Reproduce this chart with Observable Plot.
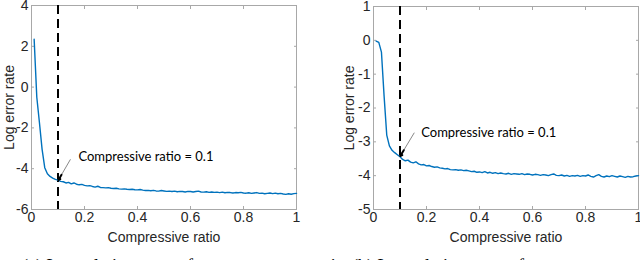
<!DOCTYPE html>
<html><head><meta charset="utf-8">
<script src="https://cdn.jsdelivr.net/npm/d3@7"></script>
<script src="https://cdn.jsdelivr.net/npm/@observablehq/plot@0.6"></script>
<style>
body{margin:0;background:#fff;width:640px;height:260px;overflow:hidden;position:relative}
#row{display:flex;position:absolute;left:0;top:0}
#row svg{display:block;overflow:visible}
.cap{position:absolute;top:256px;font-family:"Liberation Serif",serif;font-size:18px;line-height:20px;color:#000;white-space:nowrap}
</style></head><body>
<div id="row"><div id="a"></div><div id="b"></div></div>
<div class="cap" style="left:22px">(a) Log relative error of measurement matrix</div>
<div class="cap" style="left:352px">(b) Log relative error of measurement matrix</div>
<script>
const ratio = [0.01,0.02,0.03,0.04,0.05,0.06,0.07,0.08,0.09,0.10,0.11,0.12,0.13,0.14,0.15,0.16,0.17,0.18,0.19,0.20,0.21,0.22,0.23,0.24,0.25,0.26,0.27,0.28,0.29,0.30,0.31,0.32,0.33,0.34,0.35,0.36,0.37,0.38,0.39,0.40,0.41,0.42,0.43,0.44,0.45,0.46,0.47,0.48,0.49,0.50,0.51,0.52,0.53,0.54,0.55,0.56,0.57,0.58,0.59,0.60,0.61,0.62,0.63,0.64,0.65,0.66,0.67,0.68,0.69,0.70,0.71,0.72,0.73,0.74,0.75,0.76,0.77,0.78,0.79,0.80,0.81,0.82,0.83,0.84,0.85,0.86,0.87,0.88,0.89,0.90,0.91,0.92,0.93,0.94,0.95,0.96,0.97,0.98,0.99,1.00];
const errorA = [2.35,-0.50,-1.75,-3.05,-3.95,-4.25,-4.38,-4.46,-4.52,-4.56,-4.62,-4.64,-4.70,-4.67,-4.74,-4.70,-4.76,-4.79,-4.77,-4.82,-4.84,-4.83,-4.87,-4.90,-4.86,-4.92,-4.93,-4.94,-4.93,-4.96,-4.97,-4.96,-4.99,-5.00,-4.99,-5.01,-5.02,-5.01,-5.03,-5.04,-5.02,-5.05,-5.07,-5.06,-5.08,-5.06,-5.09,-5.10,-5.07,-5.09,-5.11,-5.10,-5.12,-5.10,-5.13,-5.11,-5.12,-5.14,-5.11,-5.12,-5.14,-5.12,-5.10,-5.14,-5.15,-5.13,-5.16,-5.14,-5.16,-5.15,-5.17,-5.15,-5.18,-5.16,-5.17,-5.19,-5.17,-5.18,-5.16,-5.19,-5.20,-5.18,-5.21,-5.19,-5.17,-5.21,-5.20,-5.23,-5.21,-5.19,-5.22,-5.20,-5.23,-5.21,-5.24,-5.26,-5.23,-5.25,-5.22,-5.21];
const errorB = [-0.02,-0.06,-0.35,-1.65,-2.80,-3.12,-3.25,-3.32,-3.38,-3.44,-3.52,-3.56,-3.54,-3.60,-3.62,-3.59,-3.65,-3.68,-3.67,-3.71,-3.70,-3.73,-3.75,-3.74,-3.77,-3.78,-3.80,-3.79,-3.82,-3.83,-3.82,-3.84,-3.83,-3.85,-3.84,-3.86,-3.88,-3.87,-3.90,-3.89,-3.91,-3.88,-3.92,-3.90,-3.93,-3.91,-3.94,-3.92,-3.94,-3.95,-3.93,-3.96,-3.94,-3.95,-3.96,-3.94,-3.97,-3.95,-3.96,-3.98,-3.96,-3.97,-3.99,-3.97,-3.98,-4.00,-3.97,-3.95,-3.99,-4.00,-3.98,-4.01,-3.99,-4.02,-4.00,-4.01,-3.99,-4.02,-4.00,-4.01,-3.98,-4.02,-4.04,-4.00,-3.97,-4.02,-4.04,-4.01,-4.03,-4.00,-4.02,-4.04,-4.01,-4.03,-4.05,-4.02,-4.04,-4.03,-4.01,-4.00];
const xTicks = [0,0.2,0.4,0.6,0.8,1];
const yTicksA = [-6,-4,-2,0,2,4];
const yTicksB = [-5,-4,-3,-2,-1,0,1];
const yDomainA = [-6,4];
const yDomainB = [-5,1];
const cutoff = 0.1;
const xLabel = "Compressive ratio";
const yLabel = "Log error rate";
const noteText = "Compressive ratio = 0.1";
// annotation: [textX, textY, arrowStartX, arrowStartY, arrowEndX, arrowEndY]
const noteA = [0.177, -3.44, 0.147, -3.54, 0.102, -4.55];
const noteB = [0.180, -2.73, 0.154, -2.73, 0.101, -3.42];

const axisColor = "#a8a8a8";
const textColor = "#262626";
const lineColor = "#0072BD";

function panel(values, yDomain, yTicks, note, m) {
  const data = ratio.map((r, i) => ({r, v: values[i]}));
  const fmt = d => String(d);
  return Plot.plot({
    width: 320, height: 250,
    marginLeft: m.left, marginRight: m.right, marginTop: m.top, marginBottom: 41,
    style: {fontFamily: "'Liberation Sans', Arial, sans-serif", fontSize: "14px", color: textColor, background: "transparent"},
    x: {domain: [0, 1]},
    y: {domain: yDomain},
    marks: [
      Plot.frame({stroke: axisColor}),
      Plot.axisX({anchor: "bottom", ticks: xTicks, tickSize: 0, tickPadding: 3, tickFormat: fmt, label: null, fill: textColor}),
      Plot.axisX({anchor: "bottom", ticks: xTicks, tickSize: -3, tickFormat: () => "", label: null, stroke: axisColor}),
      Plot.axisX({anchor: "top", ticks: xTicks, tickSize: -3, tickFormat: () => "", label: null, stroke: axisColor}),
      Plot.axisY({anchor: "left", ticks: yTicks, tickSize: 0, tickPadding: 3, tickFormat: fmt, label: null, fill: textColor}),
      Plot.axisY({anchor: "left", ticks: yTicks, tickSize: -3, tickFormat: () => "", label: null, stroke: axisColor}),
      Plot.axisY({anchor: "right", ticks: yTicks, tickSize: -3, tickFormat: () => "", label: null, stroke: axisColor}),
      Plot.text([xLabel], {frameAnchor: "bottom", dy: 28, lineAnchor: "middle", textAnchor: "middle", text: d => d, fill: textColor, fontSize: 14}),
      Plot.text([yLabel], {frameAnchor: "left", dx: m.ylab, rotate: -90, textAnchor: "middle", lineAnchor: "middle", text: d => d, fill: textColor, fontSize: 14}),
      Plot.ruleX([cutoff], {stroke: "#000", strokeWidth: 2, strokeDasharray: "9,5"}),
      Plot.line(data, {x: "r", y: "v", stroke: lineColor, strokeWidth: 1.4}),
      Plot.link([note], {x1: d => d[2], y1: d => d[3], x2: d => d[4], y2: d => d[5], stroke: "#888", strokeWidth: 1}),
      Plot.arrow([note], {x1: d => d[4] + (d[2]-d[4])*0.25, y1: d => d[5] + (d[3]-d[5])*0.25, x2: d => d[4], y2: d => d[5], stroke: "#000", strokeWidth: 2, headLength: 6, headAngle: 70}),
      Plot.text([note], {x: d => d[0], y: d => d[1], text: () => noteText, textAnchor: "start", fill: "#000", fontFamily: "Lato, 'Open Sans', sans-serif", fontSize: 13})
    ]
  });
}

document.getElementById("a").append(panel(errorA, yDomainA, yTicksA, noteA, {left: 31, right: 24, top: 5, ylab: -22}));
document.getElementById("b").append(panel(errorB, yDomainB, yTicksB, noteB, {left: 53, right: 2, top: 6, ylab: -24}));
</script>
</body></html>
